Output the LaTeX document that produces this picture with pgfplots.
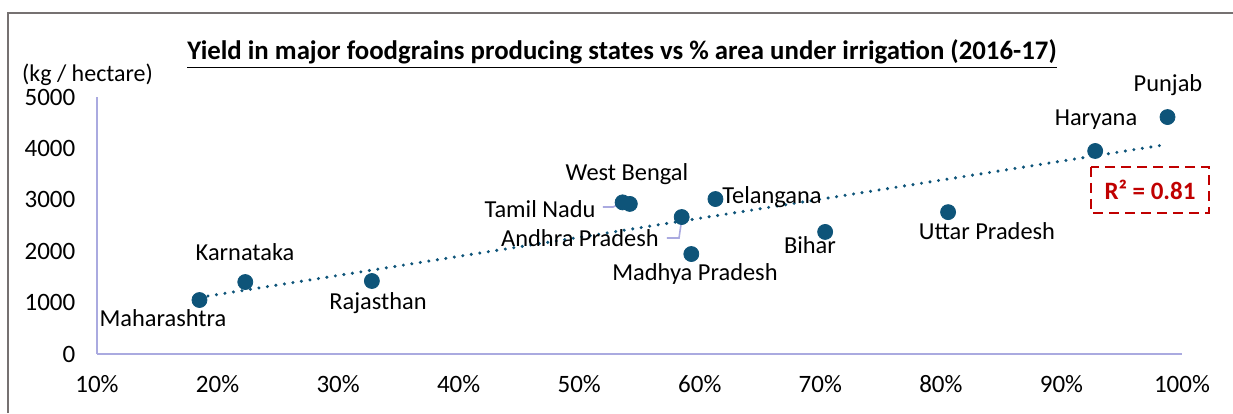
\documentclass[border=0pt]{standalone}
\usepackage{pgfplots}
\pgfplotsset{compat=1.18}
\usepackage{fontspec}
\setmainfont{Carlito}
\definecolor{dotblue}{HTML}{0E5479}
\definecolor{axlav}{HTML}{AAAAE0}
\definecolor{framegray}{HTML}{767171}
\definecolor{rred}{HTML}{C00000}
\begin{document}
\begin{tikzpicture}
\useasboundingbox (0,0) rectangle (616.5pt,206.5pt);
\draw[framegray, line width=1.2pt] (4pt,0) -- (4pt,200pt) -- (616.5pt,200pt);
\node[font=\fontsize{13.4}{15}\selectfont\bfseries] at (311pt,179.5pt) {\underline{Yield in major foodgrains producing states vs \% area under irrigation (2016-17)}};
\node[font=\fontsize{12}{14}\selectfont] at (43.75pt,169pt) {(kg / hectare)};
\begin{axis}[
  at={(48.5pt,29.5pt)}, anchor=south west,
  scale only axis, width=542.5pt, height=128.5pt,
  xmin=10, xmax=100, ymin=0, ymax=5000,
  clip=false,
  axis x line*=bottom, axis y line*=left,
  axis line style={draw=axlav, line width=1pt},
  xtick={10,20,...,100}, ytick={0,1000,...,5000},
  major tick length=0pt, tick style={draw=none},
  /pgf/number format/assume math mode=true,
  /pgf/number format/1000 sep={},
  xticklabel={\pgfmathprintnumber{\tick}\%},
  ticklabel style={font=\fontsize{12.5}{14}\selectfont},
  yticklabel style={anchor=east, xshift=-7.3pt},
  xticklabel style={anchor=north, yshift=-7pt},
]
\addplot[dotblue, line width=1.7pt, line cap=round, dash pattern=on 0pt off 4.3pt] coordinates {(18.5,1102) (98.8,4079)};
\draw[axlav, line width=0.8pt] (axis cs:51.97,2860) -- (axis cs:52.80,2860) -- (axis cs:53.55,2938);
\draw[axlav, line width=0.8pt] (axis cs:57.28,2257) -- (axis cs:58.28,2257) -- (axis cs:58.52,2646);
\addplot[only marks, mark=*, mark size=3.75pt, color=dotblue, mark options={draw=dotblue, fill=dotblue}] table {
x y
18.5 1050
22.3 1400
32.8 1420
53.6 2950
54.2 2920
58.5 2665
59.3 1945
61.3 3015
70.4 2375
80.6 2760
92.8 3950
98.8 4610
};
\begin{scope}[every node/.style={font=\fontsize{12.2}{14}\selectfont, inner sep=0pt}]
\node at (axis cs:98.84,5233) {Punjab};
\node at (axis cs:92.87,4552) {Haryana};
\node at (axis cs:83.82,2393) {Uttar Pradesh};
\node at (axis cs:69.14,2121) {Bihar};
\node at (axis cs:59.6,1556) {Madhya Pradesh};
\node at (axis cs:65.99,3054) {Telangana};
\node at (axis cs:50.06,2257) {Andhra Pradesh};
\node at (axis cs:46.75,2821) {Tamil Nadu};
\node at (axis cs:53.96,3502) {West Bengal};
\node at (axis cs:33.31,992) {Rajasthan};
\node at (axis cs:22.28,1984) {Karnataka};
\node at (axis cs:15.47,700) {Maharashtra};
\end{scope}
\end{axis}
\draw[rred, line width=1.3pt, dash pattern=on 5pt off 3pt] (545.5pt,123pt) rectangle (604.5pt,100pt);
\node[rred, font=\fontsize{12.5}{14}\selectfont\bfseries] at (575pt,111.5pt) {R² = 0.81};
\end{tikzpicture}
\end{document}
